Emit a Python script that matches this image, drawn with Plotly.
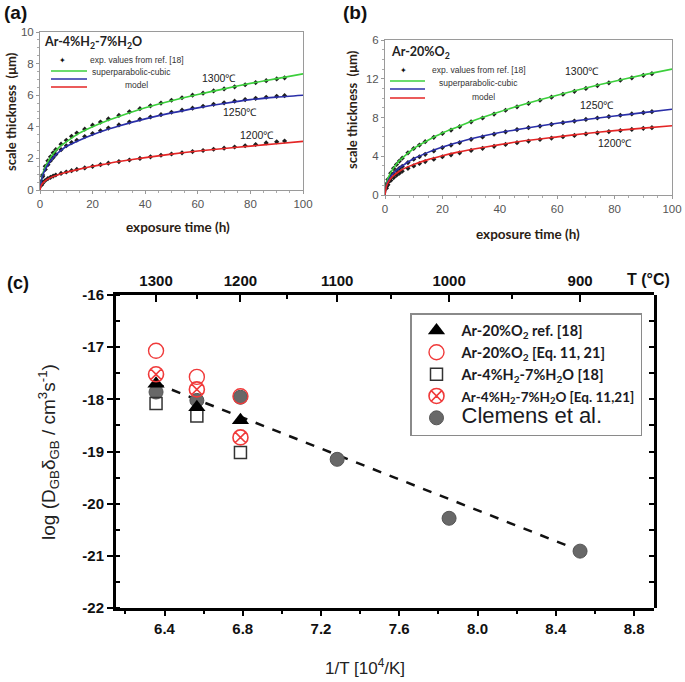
import plotly.graph_objects as go

# ---------------- data: panels (a) and (b) ----------------
t_curve = [0, 0.5, 1, 2, 3, 5, 7.5, 10, 15, 20, 25, 30, 40, 50, 60, 70, 80, 90, 100]
a_1300_fit = [0, 0.6, 1.0, 1.45, 1.8, 2.3, 2.75, 3.05, 3.6, 4.0, 4.35, 4.65, 5.2, 5.65, 6.05, 6.4, 6.75, 7.05, 7.35]
a_1250_fit = [0, 0.55, 0.9, 1.3, 1.6, 2.05, 2.45, 2.75, 3.15, 3.5, 3.8, 4.05, 4.5, 4.88, 5.2, 5.48, 5.72, 5.88, 6.0]
a_1200_fit = [0, 0.3, 0.42, 0.58, 0.7, 0.85, 1.0, 1.12, 1.32, 1.5, 1.65, 1.8, 2.05, 2.27, 2.47, 2.63, 2.78, 2.93, 3.08]
b_1300_fit = [0, 1.2, 1.7, 2.3, 2.8, 3.55, 4.2, 4.8, 5.65, 6.4, 7.0, 7.6, 8.6, 9.5, 10.3, 11.05, 11.75, 12.4, 13.0]
b_1250_fit = [0, 1.0, 1.4, 1.9, 2.25, 2.8, 3.3, 3.75, 4.4, 4.95, 5.4, 5.8, 6.45, 6.95, 7.4, 7.8, 8.15, 8.5, 8.85]
b_1200_fit = [0, 0.9, 1.25, 1.7, 2.0, 2.45, 2.85, 3.15, 3.65, 4.05, 4.4, 4.7, 5.2, 5.65, 6.0, 6.35, 6.65, 6.9, 7.15]

t_exp = [0.5, 1, 2, 3, 4, 5, 6, 8, 10, 12, 14, 17, 20, 23, 26, 30, 34, 38, 42, 46, 50, 54, 58, 62, 66, 70, 74, 78, 82, 86, 90, 93]
a_1300_exp = [0.55, 0.95, 1.5, 1.85, 2.1, 2.35, 2.55, 2.9, 3.15, 3.4, 3.6, 3.85, 4.1, 4.3, 4.5, 4.72, 4.95, 5.15, 5.33, 5.5, 5.68, 5.84, 6.0, 6.13, 6.27, 6.4, 6.53, 6.66, 6.8, 6.92, 7.03, 7.1]
a_1250_exp = [0.5, 0.85, 1.3, 1.6, 1.85, 2.05, 2.25, 2.55, 2.8, 3.0, 3.15, 3.38, 3.57, 3.75, 3.92, 4.12, 4.3, 4.47, 4.62, 4.77, 4.92, 5.05, 5.18, 5.3, 5.42, 5.52, 5.62, 5.72, 5.8, 5.87, 5.93, 5.97]
a_1200_exp = [0.3, 0.42, 0.6, 0.72, 0.8, 0.88, 0.95, 1.05, 1.14, 1.22, 1.3, 1.4, 1.5, 1.6, 1.7, 1.8, 1.9, 2.0, 2.1, 2.2, 2.28, 2.35, 2.43, 2.5, 2.58, 2.65, 2.72, 2.8, 2.88, 2.98, 3.05, 3.1]
b_1300_exp = [1.1, 1.6, 2.25, 2.75, 3.15, 3.5, 3.8, 4.35, 4.8, 5.15, 5.5, 5.95, 6.35, 6.7, 7.05, 7.55, 7.95, 8.35, 8.75, 9.1, 9.45, 9.78, 10.1, 10.4, 10.7, 11.0, 11.3, 11.58, 11.85, 12.1, 12.35, 12.52]
b_1250_exp = [0.9, 1.3, 1.85, 2.2, 2.5, 2.75, 2.95, 3.35, 3.7, 3.95, 4.2, 4.55, 4.9, 5.15, 5.4, 5.75, 6.0, 6.28, 6.52, 6.75, 6.95, 7.12, 7.3, 7.47, 7.63, 7.8, 7.95, 8.1, 8.23, 8.37, 8.5, 8.6]
b_1200_exp = [0.7, 1.05, 1.5, 1.8, 2.05, 2.25, 2.45, 2.75, 3.0, 3.25, 3.45, 3.7, 3.95, 4.15, 4.35, 4.6, 4.82, 5.02, 5.22, 5.4, 5.57, 5.73, 5.88, 6.02, 6.15, 6.3, 6.42, 6.55, 6.66, 6.77, 6.88, 6.95]

b_ytick_vals = [0, 4, 8, 12, 16]
b_ytick_text = ["0", "4", "8", "12", "6"]

# ---------------- data: panel (c) ----------------
T_eq = [1300, 1250, 1200]
ar20_ref = [-17.70, -18.15, -18.40]
ar20_eq = [-17.07, -17.57, -17.94]
ar4_ref = [-18.08, -18.32, -19.02]
ar4_eq = [-17.52, -17.81, -18.73]
clemens_T = [1300, 1250, 1200, 1100, 1000, 900]
clemens = [-17.86, -18.02, -17.96, -19.15, -20.28, -20.91]
fit_invT = [6.352, 8.55]
fit_y = [-17.69, -20.94]

top_T = [1300, 1200, 1100, 1000, 900]
top_T_minor = [1250, 1150, 1050, 950]
bottom_ticks = [6.4, 6.8, 7.2, 7.6, 8.0, 8.4, 8.8]
bottom_minor = [6.2, 6.6, 7.0, 7.4, 7.8, 8.2, 8.6]
c_yticks = [-22, -21, -20, -19, -18, -17, -16]


def inv(T):
    return 1e4 / (T + 273.15)


W, H = 685, 682


def px(x):
    return x / W


def py(y):
    return 1 - y / H


GREEN, BLUE, RED = "#3ccf3c", "#2a2fa8", "#e42525"
fig = go.Figure()

# panels a and b
for xa, ya, exps, fits in [
    ("x", "y", [a_1300_exp, a_1250_exp, a_1200_exp], [a_1300_fit, a_1250_fit, a_1200_fit]),
    ("x2", "y2", [b_1300_exp, b_1250_exp, b_1200_exp], [b_1300_fit, b_1250_fit, b_1200_fit]),
]:
    for e in exps:
        fig.add_trace(go.Scatter(x=t_exp, y=e, mode="markers", xaxis=xa, yaxis=ya, showlegend=False,
                                 marker=dict(symbol="diamond", size=4, color="#1e1e1e")))
    for f, col in zip(fits, [GREEN, BLUE, RED]):
        fig.add_trace(go.Scatter(x=t_curve, y=f, mode="lines", xaxis=xa, yaxis=ya, showlegend=False,
                                 line=dict(color=col, width=1.6, shape="spline", smoothing=0.6)))

# panel c : right-hand frame axis (y4) carries a transparent copy of the fit
fig.add_trace(go.Scatter(x=fit_invT, y=fit_y, mode="lines", xaxis="x3", yaxis="y4", showlegend=False,
                         opacity=0, hoverinfo="skip", line=dict(width=0.1)))
fig.add_trace(go.Scatter(x=fit_invT, y=fit_y, mode="lines", xaxis="x3", yaxis="y3", showlegend=False,
                         line=dict(color="#111", width=2.5, dash="dash")))
CX, CY = "x4", "y3"
fig.add_trace(go.Scatter(x=[inv(t) for t in clemens_T], y=clemens, mode="markers", xaxis=CX, yaxis=CY,
                         name="<span style='font-size:22px;font-family:Liberation Sans;font-weight:normal'>Clemens et al.</span>",
                         legendrank=5,
                         marker=dict(symbol="circle", size=14, color="#686868", line=dict(color="#555", width=1))))
fig.add_trace(go.Scatter(x=[inv(t) for t in T_eq], y=ar4_ref, mode="markers", xaxis=CX, yaxis=CY,
                         name="Ar-4%H<sub>2</sub>-7%H<sub>2</sub>O [18]", legendrank=3,
                         marker=dict(symbol="square-open", size=12, color="#333", line=dict(width=1.5))))
fig.add_trace(go.Scatter(x=[inv(t) for t in T_eq], y=ar20_ref, mode="markers", xaxis=CX, yaxis=CY,
                         name="Ar-20%O<sub>2</sub> ref. [18]", legendrank=1,
                         marker=dict(symbol="triangle-up", size=15, color="#000")))
fig.add_trace(go.Scatter(x=[inv(t) for t in T_eq], y=ar20_eq, mode="markers", xaxis=CX, yaxis=CY,
                         name="Ar-20%O<sub>2</sub> [Eq. 11, 21]", legendrank=2,
                         marker=dict(symbol="circle-open", size=15, color="#f03a3a", line=dict(width=1.4))))
fig.add_trace(go.Scatter(x=[inv(t) for t in T_eq], y=ar4_eq, mode="markers", xaxis=CX, yaxis=CY,
                         name="<span style='font-size:13.5px'>Ar-4%H<sub>2</sub>-7%H<sub>2</sub>O [Eq. 11,21]</span>",
                         legendrank=4,
                         marker=dict(symbol="circle-x-open", size=15, color="#f03a3a", line=dict(width=1.6))))

tickfont_ab = dict(family="Liberation Sans", size=11.5, color="#555")
ax_ab = dict(showline=True, linecolor="#9a9a9a", linewidth=1, mirror=True, showgrid=False, zeroline=False,
             ticks="outside", ticklen=3, tickcolor="#999", tickfont=tickfont_ab, automargin=False)

boldfont = dict(family="Liberation Sans", size=15, color="#111", weight="bold")
c_common = dict(showgrid=False, zeroline=False, showline=True, linecolor="#000", linewidth=3, automargin=False)

fig.update_layout(
    width=W, height=H, margin=dict(l=0, r=0, t=0, b=0, autoexpand=False),
    paper_bgcolor="white", plot_bgcolor="rgba(0,0,0,0)",
    xaxis=dict(domain=[px(40), px(303)], anchor="y", range=[0, 100], dtick=20,
               minor=dict(dtick=5, ticks="outside", ticklen=2, tickcolor="#aaa"), **ax_ab),
    yaxis=dict(domain=[py(190), py(32)], anchor="x", range=[0, 10], dtick=2,
               minor=dict(dtick=0.5, ticks="outside", ticklen=2, tickcolor="#aaa"), **ax_ab),
    xaxis2=dict(domain=[px(385), px(672)], anchor="y2", range=[0, 100], dtick=20,
                minor=dict(dtick=5, ticks="outside", ticklen=2, tickcolor="#aaa"), **ax_ab),
    yaxis2=dict(domain=[py(195), py(40)], anchor="x2", range=[0, 16], tickvals=b_ytick_vals,
                ticktext=b_ytick_text,
                minor=dict(dtick=1, ticks="outside", ticklen=2, tickcolor="#aaa"), **ax_ab),
    xaxis3=dict(domain=[px(116), px(654)], anchor="y3", range=[6.152, 8.902],
                tickvals=bottom_ticks, ticktext=[f"{v:.1f}" for v in bottom_ticks],
                ticks="outside", ticklen=5, tickwidth=2, tickcolor="#000", tickfont=boldfont,
                minor=dict(tickvals=bottom_minor, ticks="outside", ticklen=3, tickwidth=2, tickcolor="#000"),
                **c_common),
    xaxis4=dict(overlaying="x3", side="top", anchor="y3", range=[6.152, 8.902],
                tickvals=[inv(t) for t in top_T], ticktext=[str(t) for t in top_T],
                ticks="inside", ticklen=7, tickwidth=2, tickcolor="#000", tickfont=boldfont,
                minor=dict(tickvals=[inv(t) for t in top_T_minor], ticks="inside", ticklen=4, tickwidth=2,
                           tickcolor="#000"),
                **c_common),
    yaxis3=dict(domain=[py(608), py(295)], anchor="x3", range=[-22, -16],
                tickvals=c_yticks, ticktext=[str(v) for v in c_yticks],
                ticks="outside", ticklen=6, tickwidth=2, tickcolor="#000", tickfont=boldfont,
                minor=dict(dtick=0.5, ticks="inside", ticklen=4, tickwidth=2, tickcolor="#000"),
                **c_common),
    yaxis4=dict(domain=[py(608), py(295)], side="right", anchor="x3", range=[-22, -16], showticklabels=False,
                tickvals=[-22 + 0.5 * i for i in range(13)], ticks="inside", ticklen=5, tickwidth=2,
                tickcolor="#000", **c_common),
    legend=dict(x=px(410), y=py(313), xanchor="left", yanchor="top", bgcolor="white",
                bordercolor="#8a8a8a", borderwidth=1.5, traceorder="normal", itemwidth=40,
                font=dict(family="Lato", size=14.5, color="#1a1a22", weight="bold"),
                itemsizing="trace"),
    showlegend=True,
)

ann = []


def A(text, x, y, size, bold=False, family="Liberation Sans", color="#111", angle=0, xanchor="center",
      xref="paper", yref="paper"):
    ann.append(dict(text=text, x=x, y=y, xref=xref, yref=yref, showarrow=False, textangle=angle,
                    xanchor=xanchor, yanchor="middle",
                    font=dict(family=family, size=size, color=color, weight="bold" if bold else "normal")))


TITLE_COL = "#2b2114"
A("(a)", px(15), py(13), 19, bold=True)
A("(b)", px(355), py(13), 19, bold=True)
A("(c)", px(18), py(283), 18, bold=True)
A("scale thickness  (μm)", px(11), py(112), 13, bold=True, family="Lato", color=TITLE_COL, angle=-90)
A("exposure time (h)", px(178), py(227), 13.5, bold=True, family="Lato", color=TITLE_COL)
A("scale thickness  (μm)", px(352), py(110), 13, bold=True, family="Lato", color=TITLE_COL, angle=-90)
A("exposure time (h)", px(528), py(234), 13.5, bold=True, family="Lato", color=TITLE_COL)

A("Ar-4%H<sub>2</sub>-7%H<sub>2</sub>O", px(42), py(43), 12.5, bold=True, family="Lato", color="#222", xanchor="left")
A("Ar-20%O<sub>2</sub>", px(389), py(52), 12.5, bold=True, family="Lato", color="#222", xanchor="left")
for (mx, my, tx, gy, by, ry, sx, sy, mdx, mdy, lx0, lx1) in [
    (63, 60, 88, 71, 79, 87, 90, 72, 123, 85, 51, 87),
    (403, 70, 430, 81, 89, 98, 437, 83, 470, 97, 390, 425),
]:
    A("exp. values from ref. [18]", px(tx), py(my), 8.5, color="#333", xanchor="left")
    A("superparabolic-cubic", px(sx), py(sy), 8.5, color="#333", xanchor="left")
    A("model", px(mdx), py(mdy), 8.5, color="#333", xanchor="left")
    A("✦", px(mx), py(my), 8, family="DejaVu Sans", color="#111")

for text, x, y in [("1300℃", 68, 7.1), ("1250℃", 76, 4.95), ("1200℃", 82.5, 3.5)]:
    A(text, x, y, 10.5, color="#222", xref="x", yref="y")
for text, x, y in [("1300℃", 68.5, 12.8), ("1250℃", 74, 9.3), ("1200℃", 80, 5.4)]:
    A(text, x, y, 10.5, color="#222", xref="x2", yref="y2")

A("T (°C)", px(648), py(279), 16, bold=True)
A("1/T [10<sup>4</sup>/K]", px(365), py(667), 17, color="#222")
A("log (D<sub>GB</sub>δ<sub>GB</sub> / cm<sup>3</sup>s<sup>-1</sup>)", px(48), py(452), 19, color="#222", angle=-90)
fig.update_layout(annotations=ann)

shapes = []
for (x0, x1, ys) in [(51, 87, (71, 79, 87)), (390, 425, (81, 89, 98))]:
    for yy, col in zip(ys, [GREEN, BLUE, RED]):
        shapes.append(dict(type="line", xref="paper", yref="paper", x0=px(x0), x1=px(x1), y0=py(yy), y1=py(yy),
                           line=dict(color=col, width=1.6)))
fig.update_layout(shapes=shapes)

fig.write_html("out.html", config={"displayModeBar": False},
               post_script="document.body.style.margin='0px';document.body.style.overflow='hidden';")
